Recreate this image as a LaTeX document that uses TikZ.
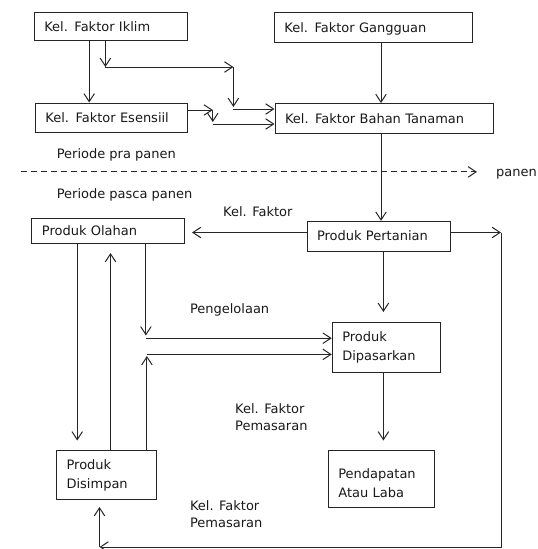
\documentclass[tikz,border=0pt]{standalone}
\usepackage{fontspec}
\setmainfont{DejaVu Sans}
\usetikzlibrary{arrows.meta}
\begin{document}
\begin{tikzpicture}[x=1pt,y=-1pt,
  font=\fontsize{13}{19}\selectfont,
  every node/.style={text=black!90},
  ln/.style={draw=black!85, line width=1pt},
  arr/.style={ln, -{Straight Barb[length=8pt,width=10.5pt]}},
  box/.style={ln, inner xsep=10pt, inner ysep=0pt, align=left},
  onebox/.style={box, text height=9.5pt, text depth=0pt},
  lbl/.style={inner sep=0pt, anchor=west, align=left, font=\fontsize{13}{17}\selectfont},
  lbl1/.style={lbl, text height=9.5pt, text depth=0pt},
]
\useasboundingbox (0,0) rectangle (538,549);

% boxes
\node[onebox, text width=132.7pt, minimum height=27.5pt] (iklim) at (110.7,26.5) {Kel. Faktor Iklim};
\node[onebox, text width=178.5pt, minimum height=29.5pt] (gangguan) at (373.7,27.5) {Kel. Faktor Gangguan};
\node[onebox, text width=132pt, minimum height=29pt] (esensiil) at (111.4,117.5) {Kel. Faktor Esensiil};
\node[onebox, text width=198pt, minimum height=29.6pt] (bahan) at (384,118.4) {Kel. Faktor Bahan Tanaman};
\node[onebox, text width=132.4pt, minimum height=25pt] (olahan) at (108.1,231) {Produk Olahan};
\node[onebox, text width=123pt, minimum height=29.8pt] (pertanian) at (378.5,236.2) {Produk Pertanian};
\node[box, text width=88.5pt, minimum height=50.6pt] (dipasarkan) at (386.5,347.3) {Produk\\Dipasarkan};
\node[box, text width=85.7pt, minimum height=56.5pt, text depth=10pt] (pendapatan) at (381.2,478.8) {Pendapatan\\Atau Laba};
\node[box, text width=80.2pt, minimum height=49pt] (disimpan) at (106.7,475) {Produk\\Disimpan};

% labels
\node[lbl1] (pra) at (56.6,154) {Periode pra panen};
\node[lbl1] (pasca) at (56.6,193.5) {Periode pasca panen};
\node[lbl1] (panen) at (496,171.9) {panen};
\node[lbl1] (kf1) at (223,211.3) {Kel. Faktor};
\node[lbl1] (peng) at (189.8,309) {Pengelolaan};
\node[lbl] (kf2) at (235,417) {Kel. Faktor\\Pemasaran};
\node[lbl] (kf3) at (189.8,514.6) {Kel. Faktor\\Pemasaran};

% coordinates
\coordinate (xa) at (89.2,0);
\coordinate (p1) at (105.4,67);
\coordinate (p2) at (233.4,67);
\coordinate (p3) at (233.4,107);
\coordinate (p4) at (233.4,109);
\coordinate (q1) at (212.8,110);
\coordinate (q2) at (212.8,122);
\coordinate (q3) at (212.8,124);
\coordinate (xg) at (381,0);
\coordinate (d1) at (20.6,171.9);
\coordinate (d2) at (477,171.9);
\coordinate (olt) at (192,232.5);
\coordinate (r1) at (501,232.5);
\coordinate (r2) at (501,547);
\coordinate (r3) at (99.5,547);
\coordinate (r4) at (99.5,507);
\coordinate (t1) at (77.2,440.5);
\coordinate (t2) at (110.5,253);
\coordinate (t3) at (145.9,335.5);
\coordinate (t4) at (145.9,338.2);
\coordinate (t5) at (146.9,356);
\coordinate (t6) at (146.9,354.4);
\coordinate (t7) at (383.4,312);
\coordinate (t8) at (383.4,440.5);

% top connectors
\draw[arr] (iklim.south -| xa) -- (esensiil.north -| xa);
\draw[arr] (iklim.south -| p1) -- (p1);
\draw[arr] (p1) -- (p2);
\draw[arr] (p2) -- (p3);
\draw[arr] (p4) -- (p4 -| bahan.west);
\draw[arr] (esensiil.east |- q1) -- (q1);
\draw[arr] (q1) -- (q2);
\draw[arr] (q3) -- (q3 -| bahan.west);
\draw[arr] (gangguan.south -| xg) -- (bahan.north -| xg);
\draw[arr] (bahan.south -| xg) -- (pertanian.north -| xg);

% harvest line
\draw[arr, dash pattern=on 6pt off 4pt] (d1) -- (d2);

% lower connectors
\draw[arr] (pertanian.west |- olt) -- (olt);
\draw[arr] (pertanian.east |- r1) -- (r1);
\draw[arr] (r1) -- (r2) -- (r3);
\draw[arr] (r3) -- (r4);
\draw[arr] (olahan.south -| t1) -- (t1);
\draw[arr] (disimpan.north -| t2) -- (t2);
\draw[arr] (olahan.south -| t3) -- (t3);
\draw[arr] (t4) -- (t4 -| dipasarkan.west);
\draw[arr] (disimpan.north -| t5) -- (t5);
\draw[arr] (t6) -- (t6 -| dipasarkan.west);
\draw[arr] (pertanian.south -| t7) -- (t7);
\draw[arr] (dipasarkan.south -| t8) -- (t8);
\end{tikzpicture}
\end{document}
